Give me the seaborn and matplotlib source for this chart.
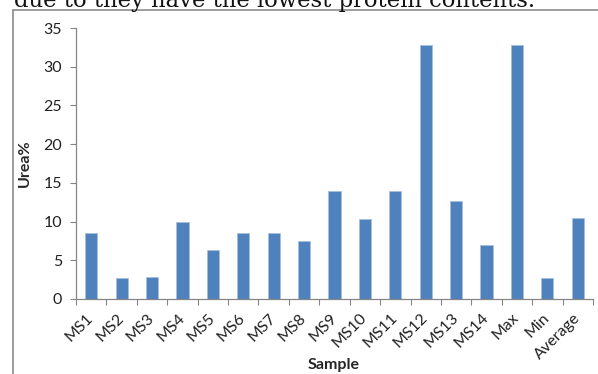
import matplotlib
matplotlib.use("Agg")
import matplotlib.pyplot as plt
from matplotlib.lines import Line2D
import seaborn as sns
import pandas as pd
import numpy as np

samples = ["MS1", "MS2", "MS3", "MS4", "MS5", "MS6", "MS7", "MS8", "MS9",
           "MS10", "MS11", "MS12", "MS13", "MS14", "Max", "Min", "Average"]
urea = [8.5, 2.7, 2.9, 10.0, 6.3, 8.5, 8.5, 7.5, 13.9,
        10.3, 13.9, 32.8, 12.6, 7.0, 32.8, 2.7, 10.4]
y_ticks = [0, 5, 10, 15, 20, 25, 30, 35]

df = pd.DataFrame({"Sample": samples, "Urea%": urea})

sns.set_theme(style="white")
plt.rcParams["font.family"] = ["Lato", "DejaVu Sans"]

W, H = 598, 374
fig = plt.figure(figsize=(W / 100, H / 100), dpi=100)
ax = fig.add_axes([76 / W, 1 - 299 / H, (593 - 76) / W, (299 - 28) / H])

axis_grey = "#868686"
sns.barplot(data=df, x="Sample", y="Urea%", color="#4F81BD", width=0.4,
            saturation=1, ax=ax, edgecolor="#A7BFDE", linewidth=0.6)

ax.set_ylim(0, 35)
ax.set_xlim(-0.5, len(samples) - 0.5)
ax.set_yticks(y_ticks)
ax.set_yticklabels([str(v) for v in y_ticks], fontsize=11.5, color="#222222")

ax.set_xticks(range(len(samples)))
ax.set_xticklabels(samples, rotation=45, ha="right", va="center",
                   rotation_mode="anchor", fontsize=11.5, color="#222222")
ax.tick_params(axis="x", which="major", length=0, pad=12)
ax.set_xticks(np.arange(-0.5, len(samples), 1.0), minor=True)
ax.tick_params(axis="x", which="minor", length=4, width=0.8, color=axis_grey,
               direction="out", bottom=True)
ax.tick_params(axis="y", length=4, width=0.8, color=axis_grey,
               direction="out", left=True, pad=6)

for side in ("top", "right"):
    ax.spines[side].set_visible(False)
for side in ("left", "bottom"):
    ax.spines[side].set_color(axis_grey)
    ax.spines[side].set_linewidth(0.9)

ax.set_ylabel("Urea%", fontsize=11.5, fontweight="bold", labelpad=8)
ax.set_xlabel("")
fig.text(334 / W, 1 - 365 / H, "Sample", ha="center", va="center",
         fontsize=11.5, fontweight="bold")

# frame around the chart area
frame_grey = "#8C8C8C"
fig.add_artist(Line2D([13 / W, 13 / W], [0, 1 - 9.5 / H], transform=fig.transFigure,
                      color=frame_grey, linewidth=1.2))
fig.add_artist(Line2D([13 / W, 1], [1 - 9.5 / H, 1 - 9.5 / H], transform=fig.transFigure,
                      color=frame_grey, linewidth=1.2))

# running text line above the chart, clipped by the page edge
caption = fig.text(14 / W, 1 - 7 / H, "due to they have the lowest protein contents.",
                   ha="left", va="baseline", fontsize=14,
                   family=["DejaVu Serif"], color="#111111")
fig.canvas.draw()
w = caption.get_window_extent().width
caption.set_fontsize(14 * (524 / w))

fig.savefig("out.png", dpi=100)
